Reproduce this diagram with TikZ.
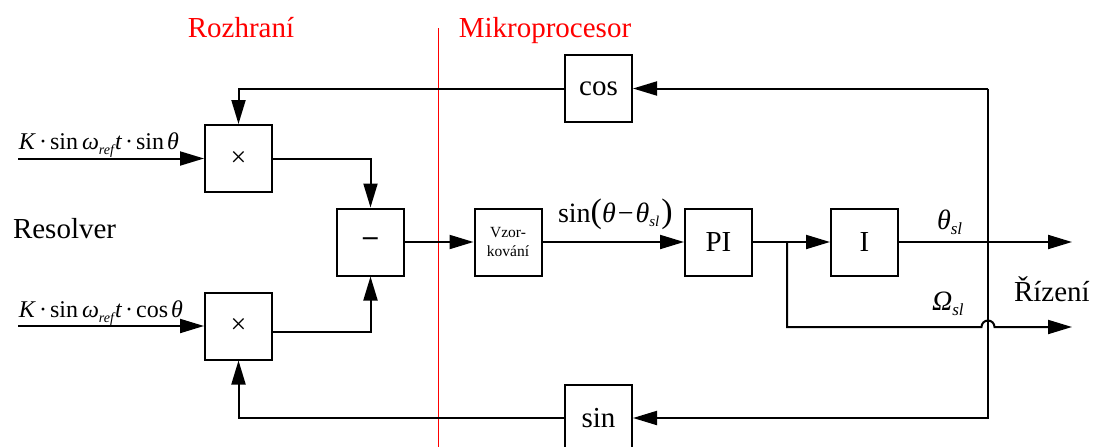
\documentclass[tikz,border=0pt]{standalone}
\usepackage{fontspec}
\setmainfont{Liberation Serif}
\usetikzlibrary{arrows.meta,calc}
\newcommand{\mysub}[3][5pt]{\raisebox{-#1}{\fontsize{#2}{#2}\selectfont\itshape #3}}
\begin{document}
\begin{tikzpicture}[x=1pt,y=-1pt,line width=2pt,
  blk/.style={draw,line width=2pt,minimum width=67pt,minimum height=67pt,inner sep=0pt,font=\fontsize{29}{30}\selectfont},
  arr/.style={-{Triangle[length=24pt,width=14pt]}},
  lbl/.style={inner sep=0pt,font=\fontsize{29}{30}\selectfont},
  mlbl/.style={inner sep=0pt,font=\fontsize{24}{25}\selectfont},
  glbl/.style={inner sep=0pt,font=\fontsize{28}{29}\selectfont},
  redl/.style={inner sep=0pt,text=red,font=\fontsize{29}{30}\selectfont}]
\useasboundingbox (0,0) rectangle (1096,447);
% boxes
\node[blk] (mulT) at (238.5,158.5) {\fontsize{28}{28}\selectfont ×};
\node[blk] (mulB) at (238.5,326) {\fontsize{28}{28}\selectfont ×};
\node[blk] (minus) at (370.5,242) {\textbf{–}};
\node[blk,font=\fontsize{15.5}{19}\selectfont,align=center] (vzor) at (508,242) {Vzor-\\kování};
\node[blk] (pi) at (718.5,242) {PI};
\node[blk] (int) at (864.5,242) {I};
\node[blk] (cos) at (598.5,88.5) {cos};
\node[blk] (sin) at (598.5,418) {sin};
% coordinates
\coordinate (in1) at (18,158.5);
\coordinate (in2) at (18,326);
\coordinate (br) at (787,242);
\coordinate (out1) at (1072,242);
\coordinate (out2) at (1072,327);
\coordinate (hopL) at (981.5,327);
\coordinate (fbT) at (987.5,88.5);
\coordinate (fbB) at (987.5,418);
\coordinate (redT) at (438.5,28);
\coordinate (redB) at (438.5,447);
% red separator
\draw[red,line width=1.5pt] (redT) -- (redB);
% connectors
\draw[arr] (in1) -- (mulT.west);
\draw[arr] (in2) -- (mulB.west);
\draw[arr] (mulT.east) -| (minus.north);
\draw[arr] ([yshift=-6pt]mulB.east) -| (minus.south);
\draw[arr] (minus.east) -- (vzor.west);
\draw[arr] (vzor.east) -- (pi.west);
\draw[arr] (pi.east) -- (int.west);
\draw[arr] (int.east) -- (out1);
\draw[arr] (br) |- (hopL) arc[start angle=180,end angle=0,radius=6.5pt] -- (out2);
\draw[arr] (fbT) -- (cos.east);
\draw[arr] (fbT) -- (fbB) -- (sin.east);
\draw[arr] (cos.west) -| (mulT.north);
\draw[arr] (sin.west) -| (mulB.south);
% labels
\node[redl,anchor=base] (roz) at (241,37) {Rozhraní};
\node[redl,anchor=base] (mik) at (545,37) {Mikroprocesor};
\node[lbl,anchor=base west] (res) at (12,238) {Resolver};
\node[lbl,anchor=base west] (riz) at (1013,301) {Řízení};
\node[mlbl,anchor=base west] (l1) at (18,149) {\textit{K}\hspace{3pt}·\hspace{3pt}sin\hspace{4pt}\textit{ω}\mysub{14}{ref}\hspace{1pt}\textit{t}\hspace{3pt}·\hspace{3pt}sin\hspace{3pt}\textit{θ}};
\node[mlbl,anchor=base west] (l2) at (18,317) {\textit{K}\hspace{3pt}·\hspace{3pt}sin\hspace{4pt}\textit{ω}\mysub{14}{ref}\hspace{1pt}\textit{t}\hspace{3pt}·\hspace{3pt}cos\hspace{3pt}\textit{θ}};
\node[glbl,anchor=base west] (l3) at (557,222) {sin{\fontsize{34}{34}\selectfont(}\textit{θ}\hspace{2pt}−\hspace{2pt}\textit{θ}\mysub[4pt]{15}{sl}\hspace{2pt}{\fontsize{34}{34}\selectfont)}};
\node[glbl,anchor=base west] (l4) at (936,229) {\textit{θ}\mysub[5pt]{17}{sl}};
\node[glbl,anchor=base west] (l5) at (931,310) {\textit{Ω}\mysub[5pt]{17}{sl}};
\end{tikzpicture}
\end{document}
